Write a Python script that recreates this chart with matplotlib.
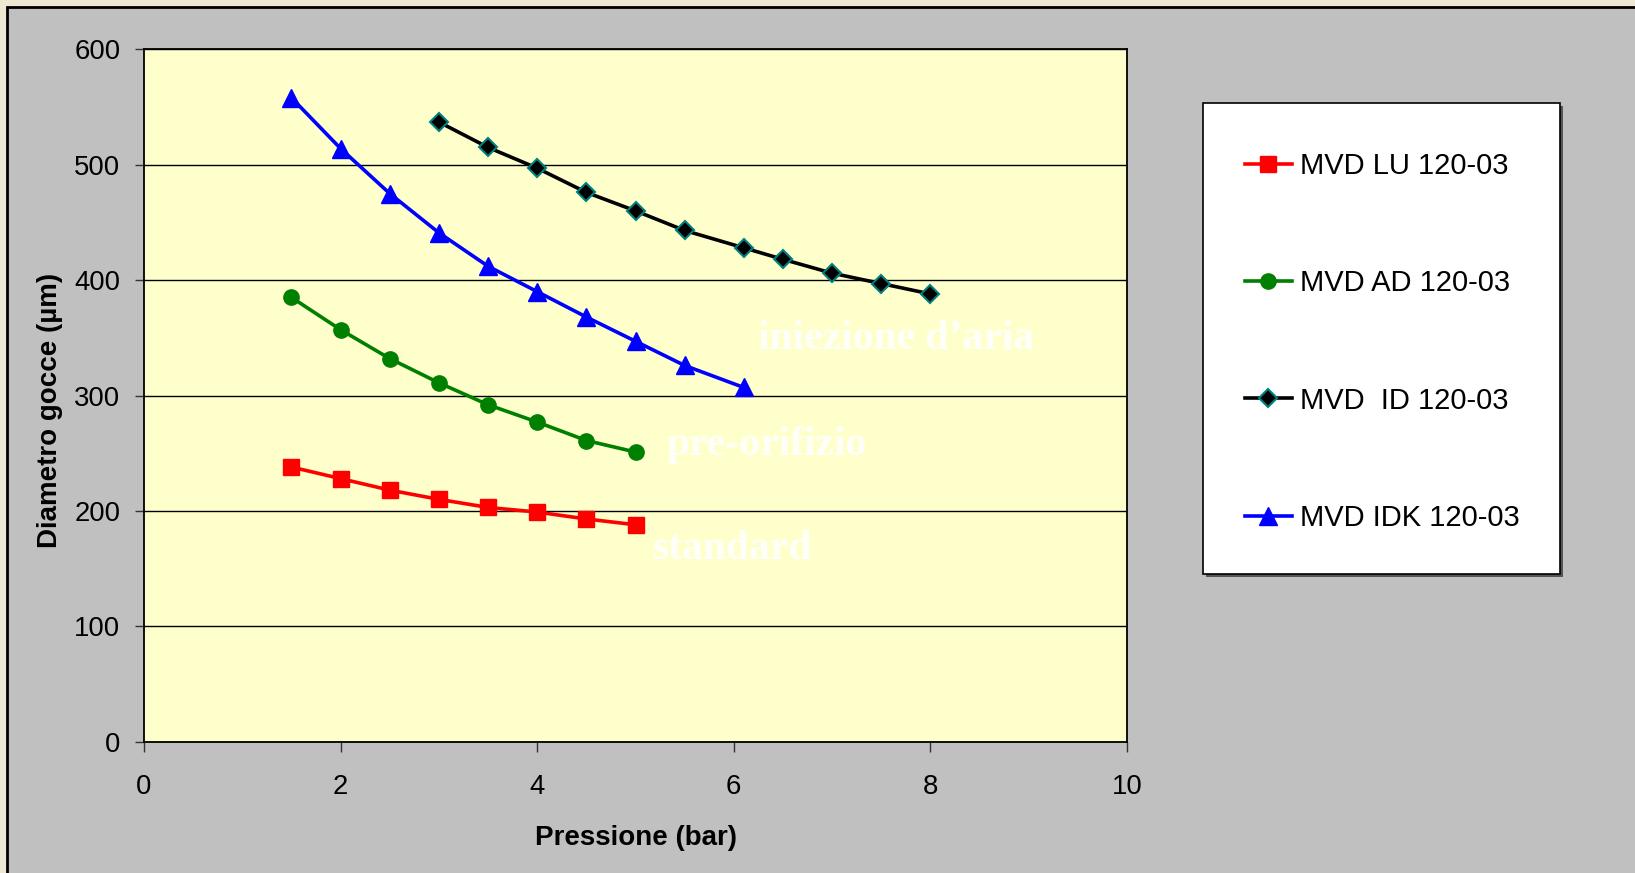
import matplotlib
matplotlib.use("Agg")
import matplotlib.pyplot as plt
from matplotlib.patches import Rectangle

# Pressure (bar) and droplet diameter (µm) for each nozzle
p_lu = [1.5, 2.0, 2.5, 3.0, 3.5, 4.0, 4.5, 5.0]
d_lu = [238, 228, 218, 210, 203, 199, 193, 188]

p_ad = [1.5, 2.0, 2.5, 3.0, 3.5, 4.0, 4.5, 5.0]
d_ad = [385, 357, 332, 311, 292, 277, 261, 251]

p_id = [3.0, 3.5, 4.0, 4.5, 5.0, 5.5, 6.1, 6.5, 7.0, 7.5, 8.0]
d_id = [537, 515, 497, 476, 460, 443, 428, 418, 406, 397, 388]

p_idk = [1.5, 2.0, 2.5, 3.0, 3.5, 4.0, 4.5, 5.0, 5.5, 6.1]
d_idk = [558, 514, 475, 441, 412, 390, 368, 347, 326, 307]

series_labels = ["MVD LU 120-03", "MVD AD 120-03", "MVD  ID 120-03", "MVD IDK 120-03"]
x_ticks = [0, 2, 4, 6, 8, 10]
y_ticks = [0, 100, 200, 300, 400, 500, 600]
annotations = [("iniezione d\u2019aria", 6.25, 349),
               ("pre-orifizio", 5.32, 257),
               ("standard", 5.18, 167)]

plt.rcParams['font.family'] = ['Liberation Sans', 'DejaVu Sans']

W, H = 1635, 873
fig = plt.figure(figsize=(W / 100, H / 100), dpi=100)
fig.patch.set_facecolor('#EFE9D4')

# grey chart panel
fig.patches.append(Rectangle((7 / W, -0.01), 1.02, 1 - 7 / H + 0.01,
                             transform=fig.transFigure, facecolor='#C0C0C0',
                             edgecolor='black', linewidth=2, zorder=0))

ax = fig.add_axes([144 / W, 1 - 741.7 / H, 983 / W, 692.4 / H])
ax.set_zorder(1)
ax.set_facecolor('#FFFFCC')

lw = 2.6
ms = 11
h_lu, = ax.plot(p_lu, d_lu, color='#FF0000', lw=lw, marker='s', ms=ms,
                mec='#FF0000', zorder=3)
h_ad, = ax.plot(p_ad, d_ad, color='#008000', lw=lw, marker='o', ms=ms,
                mec='#008000', zorder=3)
h_id, = ax.plot(p_id, d_id, color='black', lw=lw, marker='D', ms=9.5,
                mfc='black', mec='#008080', mew=1.5, zorder=3)
h_idk, = ax.plot(p_idk, d_idk, color='#0000FF', lw=lw, marker='^', ms=12.5,
                 mec='#0000FF', zorder=3)

ax.set_xlim(0, 10)
ax.set_ylim(0, 600)
ax.set_xticks(x_ticks)
ax.set_yticks(y_ticks)
ax.yaxis.grid(True, color='black', linewidth=1.0)
ax.set_axisbelow(True)
for s in ax.spines.values():
    s.set_color('black')
    s.set_linewidth(1.3)

ax.tick_params(axis='x', direction='out', length=7.2, width=1, color='#333333',
               pad=16, labelsize=19.8)
ax.tick_params(axis='y', direction='out', length=6.5, width=1, color='#333333',
               pad=10.5, labelsize=19.8)

ax.set_xlabel("Pressione (bar)", fontsize=20, fontweight='bold')
ax.xaxis.set_label_coords(0.5, -(838 - 741.7) / 692.4)
ax.xaxis.label.set_va('center')
ax.set_ylabel("Diametro gocce (\u00b5m)", fontsize=20, fontweight='bold')
ax.yaxis.set_label_coords((50 - 144) / 983, 1 - (410 - 49.3) / 692.4)
ax.yaxis.label.set_va('center')

for txt, x, y in annotations:
    ax.text(x, y, txt, family=['Liberation Serif', 'DejaVu Serif'],
            fontweight='bold', fontsize=30, color='white', alpha=0.9,
            ha='left', va='center', zorder=2)

# legend box with shadow
lx0, ly0, lx1, ly1 = 1203, 103, 1560, 574
fig.patches.append(Rectangle(((lx0 + 3) / W, 1 - (ly1 + 3) / H), (lx1 - lx0) / W,
                             (ly1 - ly0) / H, transform=fig.transFigure,
                             facecolor='#555555', edgecolor='none', zorder=2))
fig.patches.append(Rectangle((lx0 / W, 1 - ly1 / H), (lx1 - lx0) / W,
                             (ly1 - ly0) / H, transform=fig.transFigure,
                             facecolor='white', edgecolor='black', linewidth=1.2,
                             zorder=2.1))

leg = fig.legend([h_lu, h_ad, h_id, h_idk], series_labels,
                 loc='center left', bbox_to_anchor=(1245 / W, 1 - 342 / H),
                 frameon=False, fontsize=21, handlelength=1.6,
                 handletextpad=0.3, labelspacing=3.06, borderpad=0,
                 borderaxespad=0)
leg.set_zorder(5)

fig.savefig("out.png", dpi=100, facecolor=fig.get_facecolor())
